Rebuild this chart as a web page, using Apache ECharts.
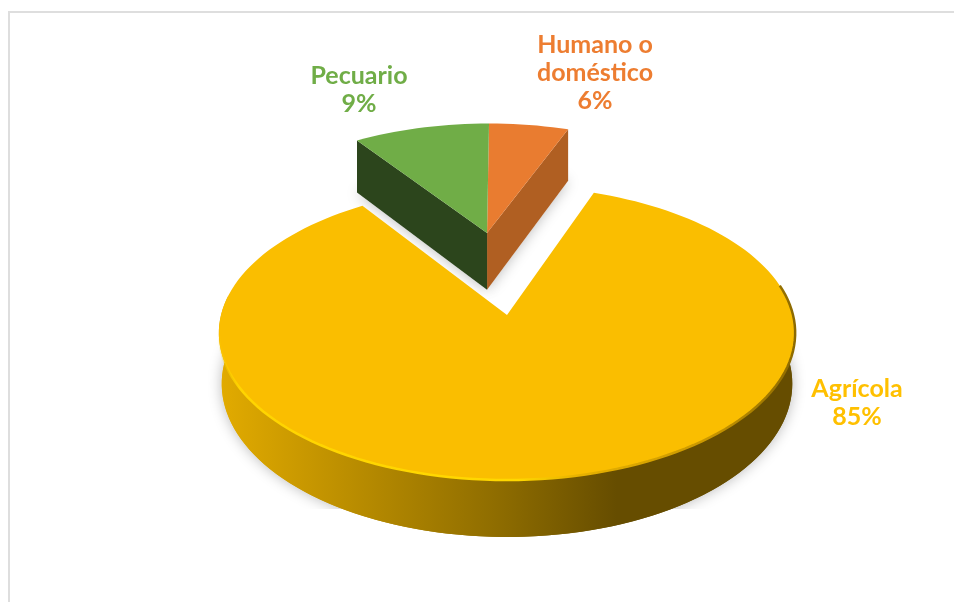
<!DOCTYPE html>
<html>
<head>
<meta charset="utf-8">
<title>Pie</title>
<style>
html, body { margin: 0; padding: 0; background: #fff; }
#chart { width: 954px; height: 602px; }
</style>
<script src="https://cdn.jsdelivr.net/npm/echarts@6/dist/echarts.min.js"></script>
</head>
<body>
<div id="chart"></div>
<script>
// slices clockwise from 12 o'clock; shares estimated from the drawn angles, labels show them rounded
const categories = ['Humano o\ndoméstico', 'Agrícola', 'Pecuario'];
const values = [5.5, 85.1, 9.4];

const topColors = ['#E97C30', '#FABE00', '#70AD47'];
const sideColors = ['#B05F22', '#FABE00', '#2C451C'];
const labelColors = ['#ED7D31', '#FFC000', '#70AD47'];
const labelPos = [[595, 73], [857, 403], [359, 90]];
// explosion of each slice in disc units, radius and wall height
const offsets = [[-0.075, 0.608], [0, 0], [-0.075, 0.608]];
const radii = [0.97, 1, 0.97];
const depths = [61, 50, 61];

const cx = 507, cy = 315, radiusX = 286, radiusY = 144.8, persp = 0.1224;
const total = values.reduce((a, b) => a + b, 0);

function project(i, deg, r, lift) {
  const a = deg * Math.PI / 180;
  const u = offsets[i][0] + r * radii[i] * Math.sin(a);
  const v = offsets[i][1] + r * radii[i] * Math.cos(a);
  const s = 1 / (1 + persp * v);
  const side = lift && i === 1 ? 0.99 : 1;
  return [cx + radiusX * u * s * side, cy - radiusY * v * s + lift * depths[i] * s];
}

function arc(i, from, to, lift) {
  const pts = [];
  const n = Math.max(2, Math.ceil((to - from) / 2));
  for (let k = 0; k <= n; k++) {
    pts.push(project(i, from + (to - from) * k / n, 1, lift));
  }
  return pts;
}

function poly(points, fill, z2, extra) {
  return {
    type: 'polygon',
    z2: z2,
    shape: { points: points },
    style: Object.assign({ fill: fill }, extra || {})
  };
}

function renderSlice(params, api) {
  const i = api.value(0);
  let start = 0;
  for (let k = 0; k < i; k++) start += values[k] / total * 360;
  const end = start + api.value(1) / total * 360;
  const isBig = i === 1;
  const base = isBig ? 10 : 20;
  const apex = project(i, 0, 0, 0);
  const apexLow = project(i, 0, 0, 1);
  const children = [];

  // soft shadow under the lower face
  children.push(poly([apexLow].concat(arc(i, start, end, 1)), '#fff', isBig ? 1 : 5, {
    shadowBlur: 14,
    shadowColor: 'rgba(0,0,0,0.28)'
  }));

  if (isBig) {
    // the shadow stops in a straight line under the pie
    children.push({
      type: 'rect',
      z2: 3,
      shape: { x: 100, y: 509, width: 800, height: 93 },
      style: { fill: '#fff' }
    });
    const wallFill = {
      type: 'linear', x: 0, y: 0, x2: 1, y2: 0,
      colorStops: [
        { offset: 0, color: '#E2AB00' },
        { offset: 0.48, color: '#8F6D00' },
        { offset: 0.69, color: '#664D00' },
        { offset: 1, color: '#664D00' }
      ]
    };
    children.push(poly([apexLow].concat(arc(i, start, end, 1)), wallFill, base));
    children.push(poly(arc(i, 85, 278, 0).concat(arc(i, 85, 278, 1).reverse()), wallFill, base + 1));
  } else {
    // the two cut faces that look to the front
    const edge = i === 0 ? end : start;
    children.push(poly([apex, project(i, edge, 1, 0), project(i, edge, 1, 1), apexLow], sideColors[i], base));
  }

  children.push(poly([apex].concat(arc(i, start, end, 0)), topColors[i], base + 2));

  if (isBig) {
    // bevel along the front rim, fading out at both ends
    children.push({
      type: 'polyline',
      z2: base + 3,
      shape: { points: arc(i, 78, 262, 0) },
      style: {
        fill: null,
        lineWidth: 2.5,
        stroke: {
          type: 'linear', x: 0, y: 0, x2: 1, y2: 0,
          colorStops: [
            { offset: 0, color: 'rgba(255,212,0,0)' },
            { offset: 0.04, color: '#FFD400' },
            { offset: 0.52, color: '#FFD800' },
            { offset: 0.62, color: '#E8B200' },
            { offset: 0.85, color: '#C99700' },
            { offset: 1, color: '#8A6800' }
          ]
        }
      }
    });
  }

  children.push({
    type: 'text',
    z2: 40,
    style: {
      text: categories[i] + '\n' + Math.round(api.value(1) / total * 100) + '%',
      x: labelPos[i][0],
      y: labelPos[i][1],
      align: 'center',
      verticalAlign: 'middle',
      fill: labelColors[i],
      fontFamily: 'Lato',
      fontWeight: 'bold',
      fontSize: 25,
      lineHeight: 28
    }
  });
  return { type: 'group', children: children };
}

const myChart = echarts.init(document.getElementById('chart'), null, { renderer: 'canvas' });
myChart.setOption({
  backgroundColor: '#fff',
  animation: false,
  graphic: [
    { type: 'rect', silent: true, shape: { x: 9, y: 11, width: 945, height: 2 }, style: { fill: '#DEDEDE' } },
    { type: 'rect', silent: true, shape: { x: 8, y: 11, width: 2, height: 591 }, style: { fill: '#DEDEDE' } }
  ],
  series: [{
    type: 'custom',
    coordinateSystem: 'none',
    renderItem: renderSlice,
    data: values.map((v, i) => [i, v])
  }]
});
</script>
</body>
</html>
